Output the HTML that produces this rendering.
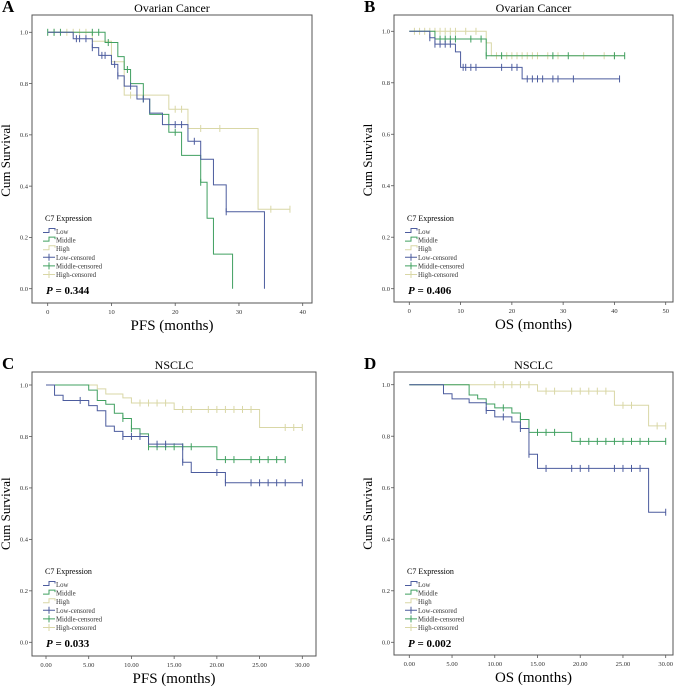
<!DOCTYPE html>
<html><head><meta charset="utf-8">
<style>
html,body{margin:0;padding:0;background:#fff;}
svg{display:block;font-family:"Liberation Serif",serif;}
</style></head>
<body>
<svg id="fig" width="680" height="688" viewBox="0 0 680 688" xmlns="http://www.w3.org/2000/svg"></svg>
<script>
// Panel A (Ovarian PFS)
const aLowT=[4,7,8,10,11,12,14,16,18,22,24,26,28,34];
const aLowS=[0.975,0.94,0.91,0.875,0.83,0.79,0.74,0.685,0.64,0.575,0.505,0.405,0.30,0];
const aLowC=[4.5,5,6,7,8.5,9,10.5,11,13,15,20,21,23,28];
const aLowEnd=34;
const aMidT=[9,11,12,13,15,16,19,21,24,25,26,29];
const aMidS=[0.96,0.905,0.855,0.80,0.74,0.68,0.61,0.52,0.415,0.275,0.135,0];
const aMidC=[0,1,2,7,8,9.5,12.5,15,20,24];
const aMidEnd=29;
const aHighT=[7,10,12,19,22,33];
const aHighS=[0.965,0.885,0.755,0.70,0.625,0.31];
const aHighC=[1,3,4,5,6,13,20,21,24,27,35,38];
const aHighEnd=38;
// Panel B (Ovarian OS)
const bLowT=[4,5,9,10,22];
const bLowS=[0.975,0.95,0.92,0.86,0.815];
const bLowC=[4,5,6,7,8,10.5,11,12,13,18,20,21,23,24,25,26,28,29,32,41];
const bLowEnd=41;
const bMidT=[5,15];
const bMidS=[0.97,0.905];
const bMidC=[6,7,8,9,12,14,15,18,28,31,40,42];
const bMidEnd=42;
const bHighT=[15,16];
const bHighS=[0.955,0.905];
const bHighC=[1,2,3,4,5,6,7,8,9,11,13,17,19,20,21,22,23,24,25,27,29,34,38,40];
const bHighEnd=42;
// Panel C (NSCLC PFS)
const cLowT=[1,2,5,6,7,8,9,12,16,17,21];
const cLowS=[0.96,0.94,0.92,0.90,0.84,0.82,0.80,0.77,0.70,0.66,0.62];
const cLowC=[4,9,10,11,13,14,16,20,21,24,25,26,27,28,30];
const cLowEnd=30;
const cMidT=[5,6,7,8,9,10,11,12,20];
const cMidS=[0.98,0.94,0.925,0.89,0.87,0.83,0.81,0.76,0.71];
const cMidC=[9,10,11,12,13,14,15,16,17,21,22,24,25,26,27,28];
const cMidEnd=28;
const cHighT=[6,7,9,10,15,25];
const cHighS=[0.985,0.965,0.95,0.93,0.905,0.835];
const cHighC=[11,12,13,14,16,17,19,20,21,22,23,24,28,29,30];
const cHighEnd=30;
// Panel D (NSCLC OS)
const dLowT=[4,5,7,9,10,12,13,14,15,28];
const dLowS=[0.965,0.945,0.93,0.90,0.875,0.855,0.83,0.73,0.675,0.505];
const dLowC=[9,11,13,14,16,19,20,21,24,25,26,27,30];
const dLowEnd=30;
const dMidT=[7,8,9,10,12,13,14,19];
const dMidS=[0.96,0.945,0.925,0.91,0.89,0.865,0.815,0.78];
const dMidC=[11,13,15,16,17,20,21,22,23,24,25,26,27,28,30];
const dMidEnd=30;
const dHighT=[15,24,28];
const dHighS=[0.975,0.92,0.84];
const dHighC=[10,11,12,13,14,16,17,19,20,21,22,23,25,26,29,30];
const dHighEnd=30;
// Axis ticks
const yTicks=[0,0.2,0.4,0.6,0.8,1.0];
const xTicksA=[0,10,20,30,40];
const xTicksB=[0,10,20,30,40,50];
const xTicksCD=[0,5,10,15,20,25,30];
const legendLabels=["Low","Middle","High","Low-censored","Middle-censored","High-censored"];

const NS="http://www.w3.org/2000/svg";
const svg=document.getElementById('fig');
const COL={low:"#4c5c9e",mid:"#40a060",high:"#d9d7a6"};
function mk(tag,attrs,parent,text){const e=document.createElementNS(NS,tag);for(const k in attrs)e.setAttribute(k,attrs[k]);if(text!==undefined)e.textContent=text;(parent||svg).appendChild(e);return e;}

function panel(p){
  const g=mk('g',{});
  
  
  const X=v=>p.x0+(v-p.xmin)/(p.xmax-p.xmin)*(p.x1-p.x0);
  const Y=v=>p.y0+(1-v)*(p.y1-p.y0);
  let t=mk('text',{x:p.fl-30,y:p.ft-3,'font-size':17,'font-weight':'bold'},g,p.letter);
   
  t=mk('text',{x:(p.fl+p.fr)/2,y:p.ft-3,'font-size':12,'text-anchor':'middle'},g,p.title);
   
  const fr=mk('rect',{x:p.fl,y:p.ft,width:p.fr-p.fl,height:p.fb-p.ft,fill:'#fff',stroke:'#555','stroke-width':1},g);
   
  yTicks.forEach(v=>{
    mk('line',{x1:p.fl-3,x2:p.fl,y1:Y(v),y2:Y(v),stroke:'#555','stroke-width':0.8},g);
    const l=mk('text',{x:p.fl-4,y:Y(v)+2.3,'font-size':6.5,'text-anchor':'end',fill:'#333'},g,v.toFixed(1));
     
  });
  p.xt.forEach(v=>{
    mk('line',{x1:X(v),x2:X(v),y1:p.fb,y2:p.fb+3,stroke:'#555','stroke-width':0.8},g);
    const l=mk('text',{x:X(v),y:p.fb+11,'font-size':6.5,'text-anchor':'middle',fill:'#333'},g,p.fmt(v));
     
  });
  const cy=(p.y0+p.y1)/2;
  t=mk('text',{x:p.ytx,y:cy,'font-size':13,'text-anchor':'middle',transform:`rotate(-90 ${p.ytx} ${cy})`},g,'Cum Survival');
   
  t=mk('text',{x:(p.fl+p.fr)/2,y:p.fb+27,'font-size':15,'text-anchor':'middle'},g,p.xtitle);
   
  const series=[['high',p.high],['mid',p.mid],['low',p.low]];
  series.forEach(([k,s])=>{
    let d=`M${X(0)},${Y(1)}`;let cur=1;
    s.T.forEach((tt,i)=>{d+=` H${X(tt)} V${Y(s.S[i])}`;cur=s.S[i];});
    if(s.end>s.T[s.T.length-1]) d+=` H${X(s.end)}`;
    const path=mk('path',{d:d,fill:'none',stroke:COL[k],'stroke-width':1},g);
     
    s.C.forEach(c=>{
      let v=1;s.T.forEach((tt,i)=>{if(tt<=c)v=s.S[i];});
      const m=mk('path',{d:`M${X(c)},${Y(v)-3.5}V${Y(v)+3.5}`,stroke:COL[k],'stroke-width':1},g);
       
    });
  });
  const lx=p.fl+11, ly=p.ly;
  t=mk('text',{x:lx+2,y:ly,'font-size':8},g,'C7 Expression');
   
  const lc=[COL.low,COL.mid,COL.high,COL.low,COL.mid,COL.high];
  legendLabels.forEach((lab,i)=>{
    const yy=ly+11.5+i*8.6;
    const e=mk('g',{},g);
     
    if(i<3) mk('path',{d:`M${lx},${yy}H${lx+6}V${yy-4}H${lx+12}V${yy-2}`,fill:'none',stroke:lc[i],'stroke-width':1},e);
    else mk('path',{d:`M${lx},${yy-1}H${lx+12}M${lx+6},${yy-4.5}V${yy+2.5}`,fill:'none',stroke:lc[i],'stroke-width':1},e);
    mk('text',{x:lx+13,y:yy+1.5,'font-size':6.8,fill:'#333'},e,lab);
  });
  t=mk('text',{x:lx+3,y:ly+73,'font-size':11,'font-weight':'bold'},g);
   
  mk('tspan',{'font-style':'italic'},t,'P');
  mk('tspan',{},t,' = '+p.pval);
}
const f0=v=>String(v), f2=v=>v.toFixed(2);
panel({id:'a',letter:'A',title:'Ovarian Cancer',fl:32,fr:312,ft:15,fb:303,x0:47.7,x1:302.7,xmin:0,xmax:40,y0:32.3,y1:288.7,xt:xTicksA,fmt:f0,ytx:10,xtitle:'PFS (months)',ly:221,pval:'0.344',
  low:{T:aLowT,S:aLowS,C:aLowC,end:aLowEnd},mid:{T:aMidT,S:aMidS,C:aMidC,end:aMidEnd},high:{T:aHighT,S:aHighS,C:aHighC,end:aHighEnd}});
panel({id:'b',letter:'B',title:'Ovarian Cancer',fl:394,fr:673,ft:15,fb:302,x0:409.3,x1:665.7,xmin:0,xmax:50,y0:31.3,y1:288.7,xt:xTicksB,fmt:f0,ytx:372,xtitle:'OS (months)',ly:221,pval:'0.406',
  low:{T:bLowT,S:bLowS,C:bLowC,end:bLowEnd},mid:{T:bMidT,S:bMidS,C:bMidC,end:bMidEnd},high:{T:bHighT,S:bHighS,C:bHighC,end:bHighEnd}});
panel({id:'c',letter:'C',title:'NSCLC',fl:32,fr:316,ft:372,fb:656,x0:46,x1:302.3,xmin:0,xmax:30,y0:385,y1:642.3,xt:xTicksCD,fmt:f2,ytx:10,xtitle:'PFS (months)',ly:574,pval:'0.033',
  low:{T:cLowT,S:cLowS,C:cLowC,end:cLowEnd},mid:{T:cMidT,S:cMidS,C:cMidC,end:cMidEnd},high:{T:cHighT,S:cHighS,C:cHighC,end:cHighEnd}});
panel({id:'d',letter:'D',title:'NSCLC',fl:394,fr:673,ft:372,fb:655,x0:409.3,x1:665.7,xmin:0,xmax:30,y0:384.7,y1:642.3,xt:xTicksCD,fmt:f2,ytx:372,xtitle:'OS (months)',ly:574,pval:'0.002',
  low:{T:dLowT,S:dLowS,C:dLowC,end:dLowEnd},mid:{T:dMidT,S:dMidS,C:dMidC,end:dMidEnd},high:{T:dHighT,S:dHighS,C:dHighC,end:dHighEnd}});
</script>
</body></html>
